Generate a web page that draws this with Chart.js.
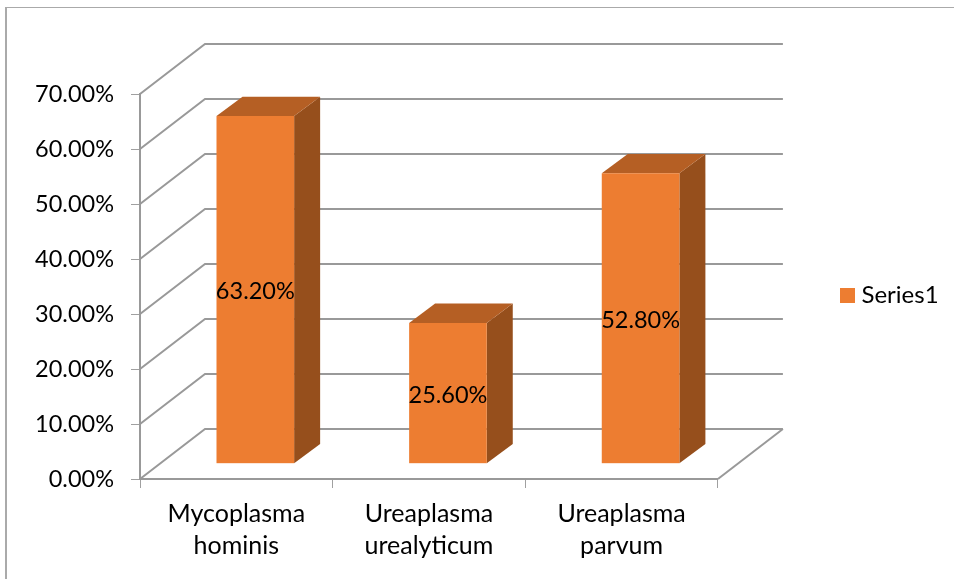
<!DOCTYPE html>
<html>
<head>
<meta charset="utf-8">
<style>
  html, body { margin: 0; padding: 0; background: #fff; overflow: hidden; }
  #frame { position: absolute; left: 5px; top: 7px; right: 0; bottom: 0; border-left: 2px solid #aaa; border-top: 1px solid #aaa; }
  #wrap { position: absolute; left: 0; top: 0; width: 954px; height: 579px; }
</style>
</head>
<body>
<div id="frame"></div>
<div id="wrap"><canvas id="chart3d" width="954" height="579"></canvas></div>
<script src="https://cdn.jsdelivr.net/npm/chart.js@4"></script>
<script>
const categories = [['Mycoplasma', 'hominis'], ['Ureaplasma', 'urealyticum'], ['Ureaplasma', 'parvum']];
const seriesName = 'Series1';
const seriesValues = [63.2, 25.6, 52.8];
const tickStep = 10;
const tickMax = 70;

// depth of the 3d box and of the bars, in pixels
const wallDx = 65, wallDy = -50;
const barShiftX = 19, barShiftY = -15.3;
const barDx = 26, barDy = -19.3;

const FONT = 'Lato';
const GRID = '#999999';
const ORANGE = '#ED7D31';

function pct(v) {
    return v.toFixed(2) + '%';
}

// legend swatch, as a small canvas so the gap to the text can be tightened
const swatch = document.createElement('canvas');
swatch.width = 15;
swatch.height = 15;
const swatchCtx = swatch.getContext('2d');
swatchCtx.fillStyle = ORANGE;
swatchCtx.fillRect(0, 0, 15, 15);

const box3d = {
    id: 'box3d',
    beforeDraw(chart) {
        // legend sits a little lower than the library would centre it
        const lg = chart.legend;
        const h = lg.bottom - lg.top;
        lg.left = 838; lg.right = 954;
        lg.top = 295 - h / 2; lg.bottom = lg.top + h;
    },
    beforeDatasetsDraw(chart) {
        const { ctx, chartArea: a, scales: { y } } = chart;
        ctx.save();
        ctx.strokeStyle = GRID;
        ctx.lineWidth = 2;
        y.ticks.forEach(t => {
            const py = y.getPixelForValue(t.value);
            ctx.beginPath();
            ctx.moveTo(a.left, py);
            ctx.lineTo(a.left + wallDx, py + wallDy);
            ctx.lineTo(a.right + wallDx, py + wallDy);
            ctx.stroke();
        });
        const y0 = y.getPixelForValue(0);
        ctx.beginPath();
        ctx.moveTo(a.right, y0);
        ctx.lineTo(a.right + wallDx, y0 + wallDy);
        ctx.stroke();
        ctx.restore();
    },
    beforeDatasetDraw(chart) {
        const ctx = chart.ctx;
        chart.getDatasetMeta(0).data.forEach(bar => {
            const r = bar.x + bar.width / 2 + barShiftX;
            const l = bar.x - bar.width / 2 + barShiftX;
            const t = bar.y + barShiftY, b = bar.base + barShiftY;
            ctx.fillStyle = '#964F1C';
            ctx.beginPath();
            ctx.moveTo(r, t);
            ctx.lineTo(r + barDx, t + barDy);
            ctx.lineTo(r + barDx, b + barDy);
            ctx.lineTo(r, b);
            ctx.closePath();
            ctx.fill();
            ctx.fillStyle = '#B55F24';
            ctx.beginPath();
            ctx.moveTo(l, t);
            ctx.lineTo(l + barDx, t + barDy);
            ctx.lineTo(r + barDx, t + barDy);
            ctx.lineTo(r, t);
            ctx.closePath();
            ctx.fill();
        });
        ctx.save();
        ctx.translate(barShiftX, barShiftY);
    },
    afterDatasetDraw(chart) {
        chart.ctx.restore();
    },
    afterDatasetsDraw(chart) {
        const ctx = chart.ctx;
        ctx.save();
        ctx.fillStyle = '#000';
        ctx.font = '23.5px ' + FONT;
        ctx.textAlign = 'center';
        ctx.textBaseline = 'middle';
        chart.getDatasetMeta(0).data.forEach((bar, i) => {
            const cy = (bar.y + bar.base) / 2 + barShiftY + 2;
            ctx.fillText(pct(seriesValues[i]), bar.x + barShiftX, cy);
        });
        ctx.restore();
    }
};

new Chart(document.getElementById('chart3d'), {
    type: 'bar',
    data: {
        labels: categories,
        datasets: [{
            label: seriesName,
            data: seriesValues,
            backgroundColor: ORANGE,
            categoryPercentage: 1,
            barPercentage: 0.403
        }]
    },
    options: {
        responsive: false,
        animation: false,
        layout: { padding: { top: 94, right: 125.5 } },
        plugins: {
            tooltip: { enabled: false },
            legend: {
                position: 'right',
                labels: {
                    color: '#000',
                    font: { family: FONT, size: 24 },
                    usePointStyle: true,
                    pointStyle: swatch,
                    boxWidth: 4,
                    boxHeight: 15,
                    padding: 7.5
                }
            }
        },
        scales: {
            x: {
                grid: { color: '#a0a0a0', drawOnChartArea: false, tickLength: 9, tickColor: '#a0a0a0' },
                border: { color: GRID, width: 2 },
                afterFit(s) { s.height = 100; },
                ticks: {
                    color: '#000',
                    font: { family: FONT, size: 25, lineHeight: 1.28 },
                    padding: 10,
                    maxRotation: 0,
                    autoSkip: false
                }
            },
            y: {
                min: 0,
                max: tickMax,
                grid: { color: '#a0a0a0', drawOnChartArea: false, tickLength: 9, tickColor: '#a0a0a0' },
                border: { color: GRID, width: 2 },
                afterFit(s) { s.width = 140; },
                ticks: {
                    stepSize: tickStep,
                    color: '#000',
                    font: { family: FONT, size: 23.5 },
                    padding: 17,
                    callback: v => pct(v)
                }
            }
        }
    },
    plugins: [box3d]
});
</script>
</body>
</html>
